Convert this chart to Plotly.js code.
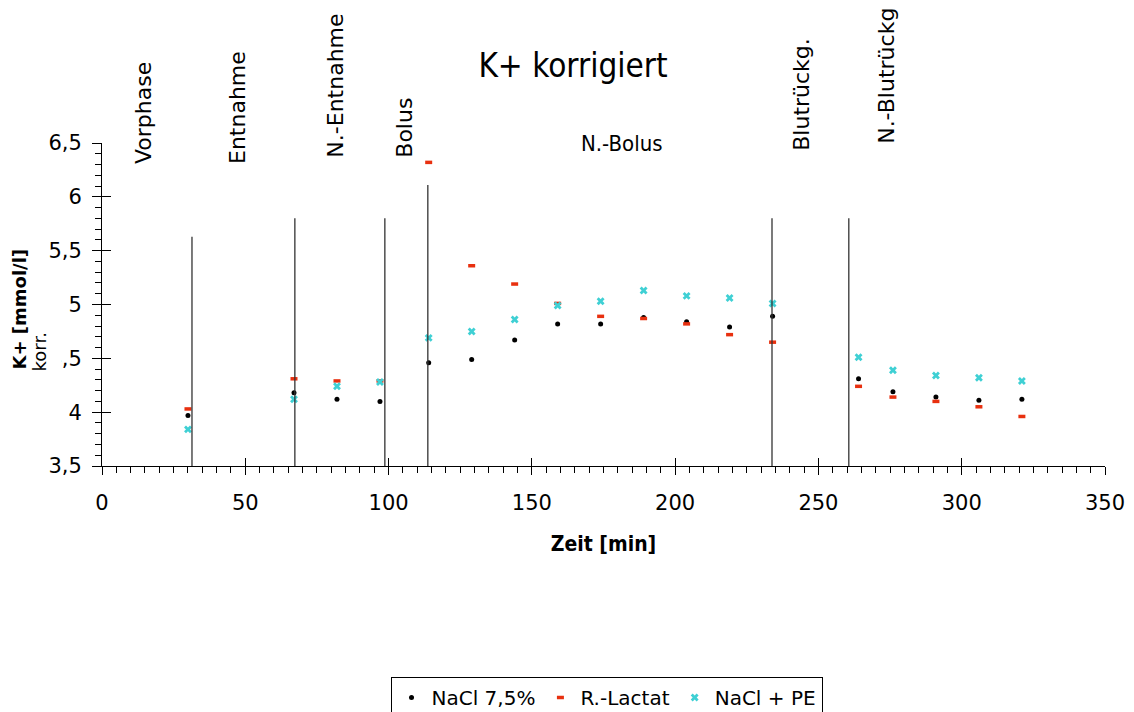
<!DOCTYPE html>
<html>
<head>
<meta charset="utf-8">
<script src="https://cdn.plot.ly/plotly-3.0.1.min.js"></script>
<style>html,body{margin:0;padding:0;background:#fff;}#chart{width:1134px;height:712px;}</style>
</head>
<body>
<div id="chart"></div>
<script>
// ---- data ----
const timeMin = [30, 67, 82, 97, 114, 129, 144, 159, 174, 189, 204, 219, 234, 264, 276, 291, 306, 321];
const nacl75  = [3.97, 4.18, 4.12, 4.10, 4.46, 4.49, 4.67, 4.82, 4.82, 4.88, 4.84, 4.79, 4.89, 4.31, 4.19, 4.14, 4.11, 4.12];
const rLactat = [4.03, 4.31, 4.29, 4.29, 6.32, 5.36, 5.19, 5.01, 4.89, 4.87, 4.82, 4.72, 4.65, 4.24, 4.14, 4.10, 4.05, 3.96];
const naclPE  = [3.84, 4.12, 4.24, 4.28, 4.69, 4.75, 4.86, 4.99, 5.03, 5.13, 5.08, 5.06, 5.01, 4.51, 4.39, 4.34, 4.32, 4.29];
const seriesNames = ['NaCl 7,5%', 'R.-Lactat', 'NaCl + PE'];

// phase boundaries (time, top of marker line in mmol/l)
const phaseLineX   = [31.4, 67.3, 98.7, 113.7, 233.8, 260.6];
const phaseLineTop = [5.63, 5.80, 5.80, 6.11, 5.80, 5.80];
const phaseLineBottom = 3.5;

// phase labels
const phaseLabels = ['Vorphase', 'Entnahme', 'N.-Entnahme', 'Bolus', 'Blutrückg.', 'N.-Blutrückg'];
const phaseLabelX = [14.7, 47.3, 81.6, 105.7, 244.0, 273.9];
const phaseLabelY = [0.929, 0.929, 0.948, 0.948, 0.969, 0.991];
const midLabel = 'N.-Bolus';

const FONT = 'DejaVu Sans, Verdana, sans-serif';
const red = '#e8300f', cyan = '#3fd0d4';

// build phase line trace
const lx = [], ly = [];
phaseLineX.forEach((x, i) => { lx.push(x, x, null); ly.push(phaseLineBottom, phaseLineTop[i], null); });

const traces = [
  {type:'scatter', mode:'lines', x:lx, y:ly, xaxis:'x2', yaxis:'y2', showlegend:false, hoverinfo:'skip',
   line:{color:'#333', width:1.3}},
  {type:'scatter', mode:'markers', name:seriesNames[0], x:timeMin, y:nacl75, cliponaxis:false,
   marker:{symbol:'circle', size:5, color:'#000'}},
  {type:'scatter', mode:'markers', name:seriesNames[1], x:timeMin, y:rLactat, cliponaxis:false,
   marker:{symbol:'line-ew', size:5, color:red, line:{color:red, width:3.5}}},
  {type:'scatter', mode:'markers', name:seriesNames[2], x:timeMin, y:naclPE, cliponaxis:false,
   marker:{symbol:'x', size:7, color:cyan, line:{width:0}}}
];

const annotations = phaseLabels.map((t, i) => ({
  text: t, textangle: -90, xref:'x', yref:'paper', x: phaseLabelX[i], y: phaseLabelY[i],
  xanchor:'center', yanchor:'bottom', showarrow:false, font:{family:FONT, size:22, color:'#000'}
}));
annotations.push({text: midLabel, xref:'x', yref:'paper', x:181.4, y:1.0, xanchor:'center', yanchor:'middle',
  showarrow:false, font:{family:'DejaVu Sans Condensed, DejaVu Sans, sans-serif', size:22, color:'#000'}});
// y-axis title: two lines, the second one on a white box (hides part of a tick label as in the original)
annotations.push({text:'<b>K+ [mmol/l]</b>', textangle:-90, xref:'paper', yref:'paper',
  x:(19 - 102) / 1003, y:(466 - 371) / 323, xanchor:'center', yanchor:'bottom',
  showarrow:false, borderpad:0, font:{family:FONT, size:18, color:'#000'}});
annotations.push({text:'korr.', textangle:-90, xref:'paper', yref:'paper',
  x:(44 - 102) / 1003, y:(466 - 373) / 323, xanchor:'center', yanchor:'bottom',
  height:32, valign:'top', bgcolor:'#fff', borderpad:0,
  showarrow:false, font:{family:FONT, size:18, color:'#000'}});

const layout = {
  width:1134, height:712,
  margin:{l:102, r:29, t:143, b:246, autoexpand:false},
  paper_bgcolor:'#fff', plot_bgcolor:'#fff',
  separators:',.',
  font:{family:FONT, size:20, color:'#000'},
  title:{text:'K+ korrigiert', x:573/1134, xref:'container', xanchor:'center', y:1 - 65/712, yref:'container', yanchor:'middle',
    font:{family:'DejaVu Sans Condensed, Liberation Sans Narrow, sans-serif', size:33, color:'#000'}},
  xaxis:{range:[0,350], dtick:50, tick0:0, showgrid:false, zeroline:false, showline:true, linecolor:'#000', linewidth:1,
    ticks:'outside', ticklen:8, tickcolor:'#000', tickwidth:1, ticklabelstandoff:10,
    minor:{dtick:5, ticks:'outside', ticklen:6, tickcolor:'#000', tickwidth:1, showgrid:false},
    tickfont:{family:FONT, size:21},
    title:{text:'<b>Zeit [min]</b>', standoff:22, font:{family:'DejaVu Sans Condensed, DejaVu Sans, sans-serif', size:21}}},
  yaxis:{range:[3.5,6.5], dtick:0.5, tick0:3.5, showgrid:false, zeroline:false, showline:true, linecolor:'#000', linewidth:1,
    ticks:'outside', ticklen:9, tickcolor:'#000', tickwidth:1, ticklabelstandoff:6,
    minor:{dtick:0.1, ticks:'outside', ticklen:6, tickcolor:'#000', tickwidth:1, showgrid:false},
    tickfont:{family:FONT, size:21}},
  xaxis2:{overlaying:'x', anchor:'y2', side:'bottom', range:[0,350], dtick:50, tick0:0, showgrid:false, zeroline:false,
    showline:false, ticks:'inside', ticklen:8, tickcolor:'#000', showticklabels:false},
  yaxis2:{overlaying:'y', anchor:'x2', side:'left', range:[3.5,6.5], dtick:0.5, tick0:3.5, showgrid:false, zeroline:false,
    showline:false, ticks:'inside', ticklen:9, tickcolor:'#000', showticklabels:false},
  showlegend:true,
  legend:{orientation:'h', x:0.503, xanchor:'center', y:(466-677)/323, yanchor:'top',
    bordercolor:'#000', borderwidth:1, bgcolor:'#fff', font:{family:FONT, size:20}, itemwidth:30, tracegroupgap:0},
  annotations: annotations
};

Plotly.newPlot('chart', traces, layout, {displayModeBar:false, staticPlot:true});
</script>
</body>
</html>
